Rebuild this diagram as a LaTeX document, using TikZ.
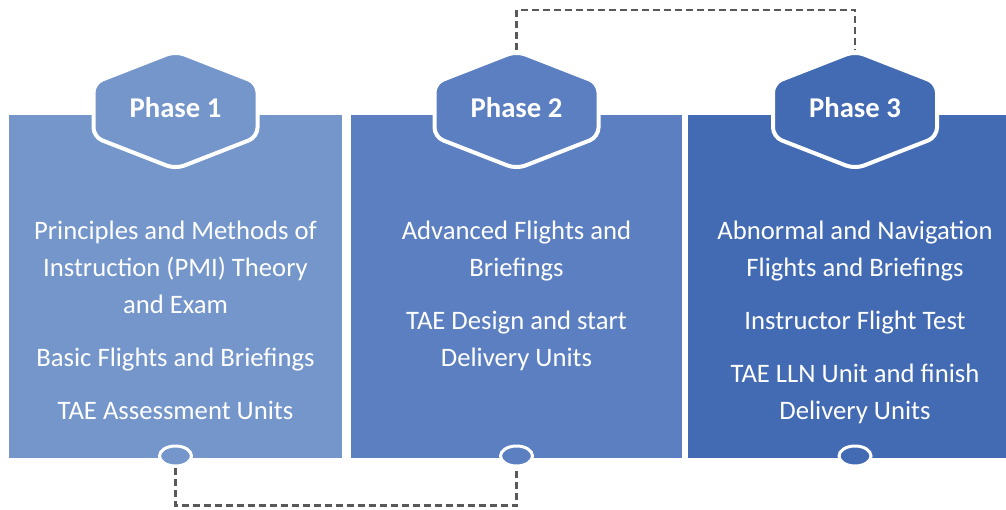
\documentclass[tikz,border=0pt]{standalone}
\usepackage{fontspec}
\setmainfont{Carlito}
\usetikzlibrary{shapes.geometric,positioning}

\definecolor{phaseA}{HTML}{7496CB}
\definecolor{phaseB}{HTML}{5B7FC0}
\definecolor{phaseC}{HTML}{436BB3}
\definecolor{linkgrey}{HTML}{595959}

% hexagon badge: centre x, fill colour
\newcommand\phasehex[2]{%
  \filldraw[fill=#2, draw=white, line width=3pt, rounded corners=7pt]
    ({#1-82},83) -- (#1,51) -- ({#1+82},83) -- ({#1+82},137)
    -- (#1,169) -- ({#1-82},137) -- cycle;}

\begin{document}
\begin{tikzpicture}[x=0.75pt,y=-0.75pt,
    panel/.style={rectangle, inner sep=0pt, minimum height=257.25pt},
    hexlabel/.style={text=white, font=\fontsize{21.5}{24}\selectfont\bfseries},
    body/.style={text=white, align=center, inner sep=0pt, anchor=north,
                 font=\fontsize{20}{27.75}\selectfont},
    knob/.style={ellipse, draw=white, line width=2.25pt, inner sep=0pt,
                 minimum width=24pt, minimum height=15pt},
    link/.style={draw=linkgrey, dash pattern=on 5.25pt off 3pt, line width=1.6pt}]
  \useasboundingbox (0,0) rectangle (1006,510);

  % panels
  \node[panel, fill=phaseA, minimum width=249.75pt] (pan1) at (175.5,286.5) {};
  \node[panel, fill=phaseB, minimum width=248.25pt] (pan2) at (516.5,286.5) {};
  \node[panel, fill=phaseC, minimum width=238.5pt]  (pan3) at (847,286.5) {};

  % badges
  \phasehex{175.5}{phaseA}
  \phasehex{516.5}{phaseB}
  \phasehex{855}{phaseC}
  \node[hexlabel] (ph1) at (175.5,108) {Phase 1};
  \node[hexlabel] (ph2) at (516.5,108) {Phase 2};
  \node[hexlabel] (ph3) at (855,108) {Phase 3};
  \coordinate (top2) at (516.5,50);
  \coordinate (top3) at (855,50);

  % knobs
  \node[knob, fill=phaseA] (k1) at (175.5,456) {};
  \node[knob, fill=phaseB] (k2) at (516.5,456) {};
  \node[knob, fill=phaseC] (k3) at (855,456) {};

  % texts
  \node[body] (t1) at (175.5,221) {Principles and Methods of\\
    Instruction (PMI) Theory\\ and Exam\\[12pt]
    Basic Flights and Briefings\\[12pt] TAE Assessment Units};
  \node[body] (t2) at (516.5,221) {Advanced Flights and\\ Briefings\\[12pt]
    TAE Design and start\\ Delivery Units};
  \node[body] (t3) at (855,221) {Abnormal and Navigation\\
    Flights and Briefings\\[12pt] Instructor Flight Test\\[12pt]
    TAE LLN Unit and finish\\ Delivery Units};

  % links
  \draw[link] (top2) -- (top2 |- 0,10) -| (top3);
  \draw[link] (k1.south) -- ++(0,38) -| (k2.south);
\end{tikzpicture}
\end{document}
